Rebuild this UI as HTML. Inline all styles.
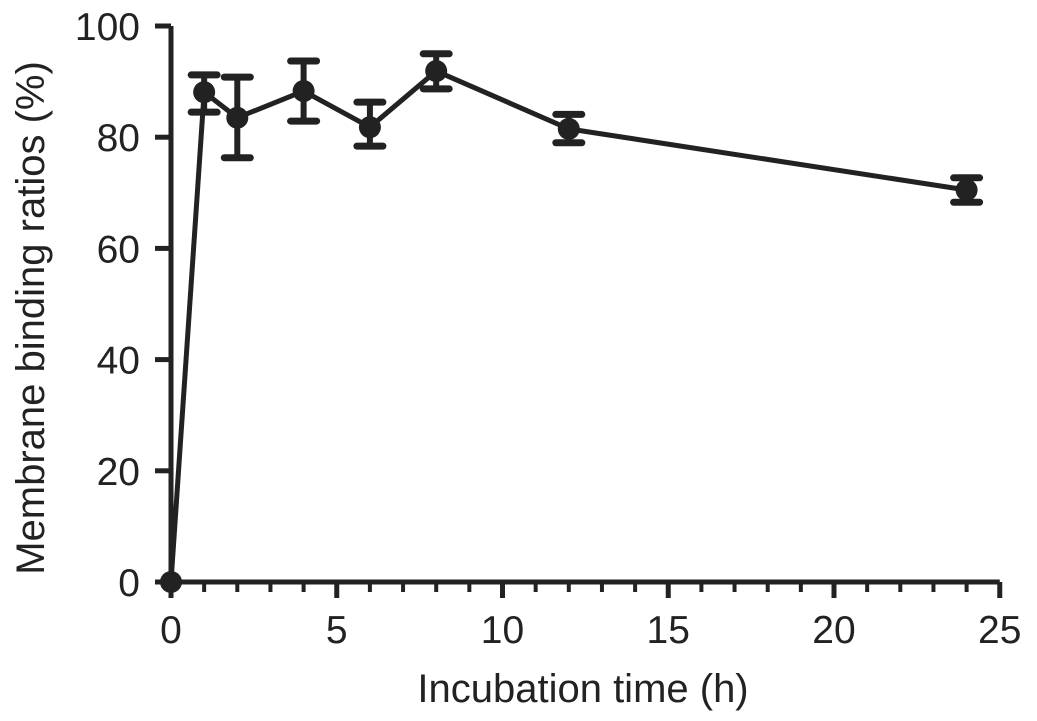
<!DOCTYPE html>
<html><head><meta charset="utf-8"><style>
html,body{margin:0;padding:0;background:#fff;}
svg{display:block;font-family:"Liberation Sans",Arial,sans-serif;}
</style></head><body>
<svg id="chart" width="1037" height="721" viewBox="0 0 1037 721" xmlns="http://www.w3.org/2000/svg">
<g id="axes"></g><g id="series"></g>
<text x="583" y="702" font-size="40" text-anchor="middle" fill="#222">Incubation time (h)</text>
<text transform="translate(44,318) rotate(-90)" font-size="40" text-anchor="middle" fill="#222">Membrane binding ratios (%)</text>
</svg>
<script>
const times = [0, 1, 2, 4, 6, 8, 12, 24];
const ratios = [0, 88.1, 83.5, 88.3, 81.8, 91.9, 81.5, 70.5];
const errUpper = [0, 3.1, 7.3, 5.4, 4.5, 3.1, 2.6, 2.2];
const errLower = [0, 3.6, 7.2, 5.4, 3.4, 3.2, 2.5, 2.2];
const xTicks = [0, 5, 10, 15, 20, 25];
const yTicks = [0, 20, 40, 60, 80, 100];

const NS = "http://www.w3.org/2000/svg";
const X0 = 171, XS = 33.15, Y0 = 582, YS = 5.56;
const sx = v => X0 + v * XS;
const sy = v => Y0 - v * YS;
function mk(tag, attrs, parent) {
  const e = document.createElementNS(NS, tag);
  for (const k in attrs) e.setAttribute(k, attrs[k]);
  parent.appendChild(e);
  return e;
}
const axes = document.getElementById('axes');
const series = document.getElementById('series');
const C = '#222';

const xa = mk('line', {x1: sx(0), y1: Y0, x2: sx(25), y2: Y0, stroke: C, 'stroke-width': 5}, axes);


const ya = mk('line', {x1: X0, y1: Y0, x2: X0, y2: sy(100), stroke: C, 'stroke-width': 5}, axes);



for (let i = 1; i <= 25; i++) {
  if (i % 5 === 0) continue;
  const t = mk('line', {x1: sx(i), y1: Y0, x2: sx(i), y2: Y0 + 10, stroke: C, 'stroke-width': 4}, axes);
  
  
}
xTicks.forEach(v => {
  const t = mk('line', {x1: sx(v), y1: Y0, x2: sx(v), y2: Y0 + 16, stroke: C, 'stroke-width': 5}, axes);
  
  
  const l = mk('text', {x: sx(v), y: 643, 'font-size': 39, 'text-anchor': 'middle', fill: C}, axes);
  l.textContent = v;
  
  
});
yTicks.forEach(v => {
  const t = mk('line', {x1: X0 - 16, y1: sy(v), x2: X0, y2: sy(v), stroke: C, 'stroke-width': 5}, axes);
  
  
  const l = mk('text', {x: 140, y: sy(v) + 14, 'font-size': 39, 'text-anchor': 'end', fill: C}, axes);
  l.textContent = v;
  
  
});

const pts = times.map((t, i) => sx(t) + ',' + sy(ratios[i])).join(' ');
const line = mk('polyline', {points: pts, fill: 'none', stroke: C, 'stroke-width': 5, 'stroke-linejoin': 'round'}, series);



times.forEach((t, i) => {
  const x = sx(t);
  if (errUpper[i] > 0 || errLower[i] > 0) {
    const g = mk('g', {stroke: C, 'stroke-width': 6}, series);
    
    
    const yt = sy(ratios[i] + errUpper[i]), yb = sy(ratios[i] - errLower[i]);
    mk('line', {x1: x, y1: yt, x2: x, y2: yb}, g);
    mk('line', {x1: x - 13, y1: yt, x2: x + 13, y2: yt, 'stroke-width': 7, 'stroke-linecap': 'round'}, g);
    mk('line', {x1: x - 13, y1: yb, x2: x + 13, y2: yb, 'stroke-width': 7, 'stroke-linecap': 'round'}, g);
  }
  const p = mk('circle', {cx: x, cy: sy(ratios[i]), r: 11, fill: C}, series);
  
  
});
</script>
</body></html>
